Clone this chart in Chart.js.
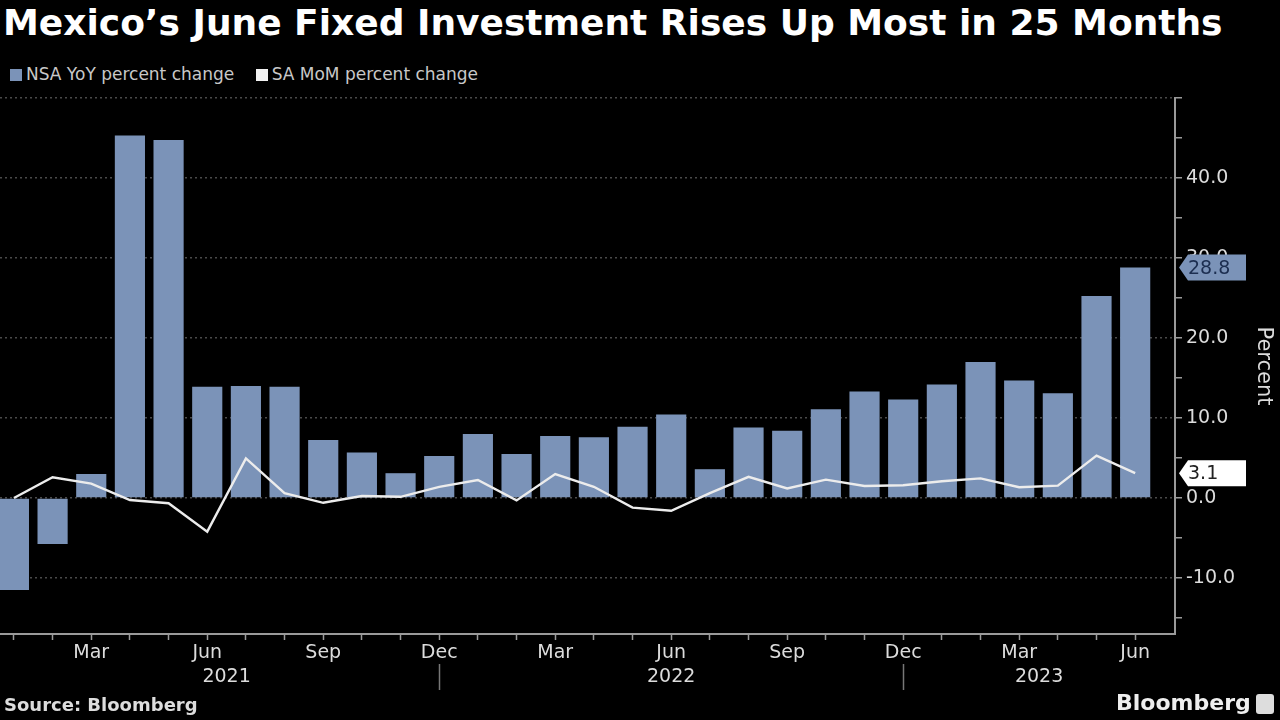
<!DOCTYPE html>
<html>
<head>
<meta charset="utf-8">
<script src="https://cdn.jsdelivr.net/npm/chart.js@4/dist/chart.umd.min.js"></script>
<style>
  html, body { margin: 0; padding: 0; background: #000; }
  #wrap { position: relative; width: 1280px; height: 720px; overflow: hidden; background: #000; }
  #chart { position: absolute; left: 0; top: 0; }
  .title { position: absolute; left: 3px; top: 2px; color: #fff; font: bold 36px "DejaVu Sans", sans-serif; white-space: nowrap; }
  .legend { position: absolute; left: 10px; top: 64px; color: #c8c8c8; font: 17px "DejaVu Sans", sans-serif; white-space: nowrap; }
  .legend span.box { display: inline-block; width: 12px; height: 12px; margin-right: 4px; vertical-align: -1px; }
  .legend span.item { margin-right: 16px; }
  .source { position: absolute; left: 4px; top: 694px; color: #ddd; font: bold 18px "DejaVu Sans", sans-serif; }
  .brand { position: absolute; left: 1116px; top: 690px; color: #eee; font: bold 22px "DejaVu Sans", sans-serif; }
  .brand-icon { position: absolute; left: 1256px; top: 694px; width: 18px; height: 20px; background: #ddd; border-radius: 3px; }
</style>
</head>
<body>
<div id="wrap">
  <div class="title">Mexico’s June Fixed Investment Rises Up Most in 25 Months</div>
  <div class="legend">
    <span class="item"><span class="box" style="background:#7b93b8"></span>NSA YoY percent change</span>
    <span class="item"><span class="box" style="background:#f2f2f2"></span>SA MoM percent change</span>
  </div>
  <canvas id="chart" width="1280" height="720"></canvas>
  <div class="source">Source: Bloomberg</div>
  <div class="brand">Bloomberg</div>
  <div class="brand-icon"></div>
</div>
<script>
// months Jan 2021 .. Jun 2023
const monthNames = ['Jan', 'Feb', 'Mar', 'Apr', 'May', 'Jun', 'Jul', 'Aug', 'Sep', 'Oct', 'Nov', 'Dec',
                    'Jan', 'Feb', 'Mar', 'Apr', 'May', 'Jun', 'Jul', 'Aug', 'Sep', 'Oct', 'Nov', 'Dec',
                    'Jan', 'Feb', 'Mar', 'Apr', 'May', 'Jun'];
const monthYears = ['2021', '2021', '2021', '2021', '2021', '2021', '2021', '2021', '2021', '2021', '2021', '2021',
                    '2022', '2022', '2022', '2022', '2022', '2022', '2022', '2022', '2022', '2022', '2022', '2022',
                    '2023', '2023', '2023', '2023', '2023', '2023'];
const shownMonths = ['Mar', 'Jun', 'Sep', 'Dec'];

const nsaYoY = [-11.5, -5.75, 3.0, 45.3, 44.75, 13.9, 14.0, 13.9, 7.25, 5.7, 3.1, 5.25,
                8.0, 5.5, 7.75, 7.6, 8.9, 10.45, 3.6, 8.8, 8.4, 11.1, 13.3, 12.3,
                14.2, 17.0, 14.7, 13.1, 25.25, 28.8];
const saMoM = [0.0, 2.6, 1.8, -0.25, -0.65, -4.2, 4.95, 0.6, -0.6, 0.25, 0.15, 1.4,
               2.25, -0.3, 3.0, 1.4, -1.2, -1.6, 0.6, 2.65, 1.2, 2.3, 1.5, 1.6,
               2.1, 2.45, 1.35, 1.55, 5.3, 3.1];

const yMin = -17, yMax = 50, yStep = 5;

const barColor = '#7b93b8';
const lineColor = '#ececec';
const axisColor = '#9a9a9a';
const textColor = '#dcdcdc';

// year labels, year separators and last-value tags
const extras = {
    id: 'extras',
    afterDraw(chart) {
        const { ctx, chartArea } = chart;
        const x = chart.scales.x, y = chart.scales.y;
        ctx.save();

        // year labels
        const years = [...new Set(monthYears)];
        ctx.font = '19px "DejaVu Sans", sans-serif';
        ctx.fillStyle = textColor;
        ctx.textAlign = 'center';
        ctx.textBaseline = 'middle';
        years.forEach(yr => {
            const first = monthYears.indexOf(yr);
            const last = monthYears.lastIndexOf(yr);
            const left = first === 0 ? x.getPixelForValue(0) : x.getPixelForValue(first - 1);
            const right = last === monthYears.length - 1 ? chartArea.right : x.getPixelForValue(last);
            ctx.fillText(yr, (left + right) / 2, 677);
            if (last < monthYears.length - 1) {
                const sx = Math.round(x.getPixelForValue(last)) + 0.5;
                ctx.strokeStyle = '#777';
                ctx.lineWidth = 1.5;
                ctx.beginPath();
                ctx.moveTo(sx, 664);
                ctx.lineTo(sx, 690);
                ctx.stroke();
            }
        });

        // last value tags
        const tags = [
            { v: nsaYoY[nsaYoY.length - 1], bg: barColor, fg: '#1c2e50' },
            { v: saMoM[saMoM.length - 1], bg: '#ffffff', fg: '#222' }
        ];
        ctx.textAlign = 'left';
        tags.forEach(t => {
            const py = y.getPixelForValue(t.v);
            const x0 = chartArea.right + 4;
            ctx.fillStyle = t.bg;
            ctx.beginPath();
            ctx.moveTo(x0, py);
            ctx.lineTo(x0 + 9, py - 13);
            ctx.lineTo(1246, py - 13);
            ctx.lineTo(1246, py + 13);
            ctx.lineTo(x0 + 9, py + 13);
            ctx.closePath();
            ctx.fill();
            ctx.fillStyle = t.fg;
            ctx.fillText(t.v.toFixed(1), x0 + 9, py + 1);
        });
        ctx.restore();
    }
};

new Chart(document.getElementById('chart'), {
    data: {
        datasets: [
            {
                type: 'line',
                label: 'SA MoM percent change',
                data: saMoM.map((v, i) => ({ x: i, y: v })),
                borderColor: lineColor,
                backgroundColor: lineColor,
                borderWidth: 2.4,
                pointRadius: 0,
                tension: 0,
                order: 0
            },
            {
                type: 'bar',
                label: 'NSA YoY percent change',
                data: nsaYoY.map((v, i) => ({ x: i, y: v })),
                backgroundColor: barColor,
                barPercentage: 0.78,
                categoryPercentage: 1.0,
                order: 1
            }
        ]
    },
    options: {
        responsive: false,
        animation: false,
        layout: { padding: { top: 98, left: 0, right: 0, bottom: 0 } },
        plugins: {
            legend: { display: false },
            tooltip: { enabled: false }
        },
        scales: {
            x: {
                type: 'linear',
                min: -0.36,
                max: 30.03,
                offset: false,
                afterFit: s => { s.height = 86; },
                afterBuildTicks: s => { s.ticks = monthNames.map((m, i) => ({ value: i })); },
                grid: { display: true, offset: false, drawOnChartArea: false, drawTicks: true, tickLength: 6, tickColor: axisColor, tickWidth: 1.5 },
                border: { display: true, color: axisColor, width: 2 },
                ticks: {
                    autoSkip: false,
                    maxRotation: 0,
                    padding: 2,
                    color: textColor,
                    font: { family: 'DejaVu Sans', size: 19 },
                    callback: (v) => shownMonths.includes(monthNames[v]) ? monthNames[v] : ''
                }
            },
            y: {
                position: 'right',
                min: yMin,
                max: yMax,
                afterFit: s => { s.width = 105; },
                afterBuildTicks: s => {
                    const t = [];
                    for (let v = -15; v <= yMax; v += yStep) t.push({ value: v });
                    s.ticks = t;
                },
                grid: {
                    color: c => (c.tick && c.tick.value % 10 === 0) ? '#4a4a4a' : 'rgba(0,0,0,0)',
                    lineWidth: 1.5,
                    drawTicks: true,
                    tickLength: 7,
                    tickColor: axisColor,
                    tickWidth: 1.5,
                    tickBorderDash: [0, 0]
                },
                border: { display: true, color: axisColor, width: 2, dash: [2, 3] },
                ticks: {
                    padding: 4,
                    color: textColor,
                    font: { family: 'DejaVu Sans', size: 19 },
                    callback: v => (v % 10 === 0 && v < yMax) ? v.toFixed(1) : ''
                },
                title: {
                    display: true,
                    text: 'Percent',
                    color: textColor,
                    font: { family: 'DejaVu Sans', size: 21 },
                    padding: 4
                }
            }
        }
    },
    plugins: [extras]
});
</script>
</body>
</html>
